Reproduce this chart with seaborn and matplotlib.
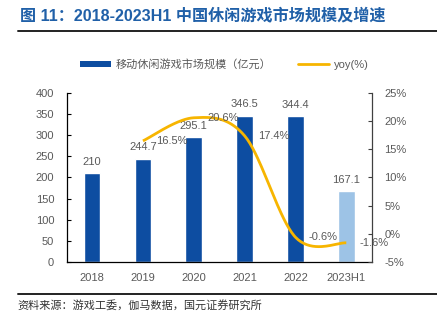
import numpy as np
import pandas as pd
import matplotlib
matplotlib.use("Agg")
import matplotlib.pyplot as plt
import seaborn as sns
from matplotlib.patches import Patch
from matplotlib.lines import Line2D

categories = ["2018", "2019", "2020", "2021", "2022", "2023H1"]
market_size = [210, 244.7, 295.1, 346.5, 344.4, 167.1]
size_labels = ["210", "244.7", "295.1", "346.5", "344.4", "167.1"]
yoy_categories = ["2019", "2020", "2021", "2022", "2023H1"]
yoy_values = [16.5, 20.6, 17.4, -0.6, -1.6]
left_ticks = [0, 50, 100, 150, 200, 250, 300, 350, 400]
right_ticks = [-5, 0, 5, 10, 15, 20, 25]

title = "图 11：2018-2023H1 中国休闲游戏市场规模及增速"
source = "资料来源：游戏工委，伽马数据，国元证券研究所"
bar_legend = "移动休闲游戏市场规模（亿元）"
line_legend = "yoy(%)"

DARK = "#0D4DA1"
LIGHT = "#9DC3E6"
GOLD = "#F7B500"
GREY = "#595959"
TITLE_BLUE = "#2060A8"

sns.set_theme(style="white")
plt.rcParams["font.family"] = ["Liberation Sans", "Noto Sans CJK SC", "DejaVu Sans"]
plt.rcParams["axes.unicode_minus"] = False

fig = plt.figure(figsize=(4.37, 3.21), dpi=100)
ax = fig.add_axes([0.1526, 0.1838, 0.698, 0.5265])

df = pd.DataFrame({"cat": categories, "val": market_size})
palette = {c: (LIGHT if c == "2023H1" else DARK) for c in categories}
sns.barplot(data=df, x="cat", y="val", hue="cat", palette=palette, width=0.33,
            legend=False, ax=ax, saturation=1)

ax.set_ylim(0, 400)
ax.set_xlim(-0.5, len(categories) - 0.5)
ax.set_yticks(left_ticks)
ax.set_xlabel("")
ax.set_ylabel("")
ax.set_xticks(range(len(categories)))
ax.set_xticklabels(categories)
ax.set_xticks(np.arange(-0.5, len(categories), 1.0), minor=True)
ax.tick_params(axis="x", which="major", length=0, pad=8, labelsize=8, labelcolor=GREY)
ax.tick_params(axis="x", which="minor", direction="in", length=3, width=0.8, color="black")
ax.tick_params(axis="y", direction="in", length=3, width=0.8, pad=9, labelsize=8,
               labelcolor=GREY, color="black", left=True)
for s in ["top", "right"]:
    ax.spines[s].set_visible(False)
for s in ["left", "bottom"]:
    ax.spines[s].set_color("black")
    ax.spines[s].set_linewidth(0.9)

for i, (v, lab) in enumerate(zip(market_size, size_labels)):
    ax.annotate(lab, (i, v), xytext=(0, 4.5), textcoords="offset points",
                ha="center", va="bottom", fontsize=8, color=GREY)

ax2 = ax.twinx()
ax2.set_ylim(-5, 25)
ax2.set_yticks(right_ticks)
ax2.set_yticklabels([f"{t}%" for t in right_ticks])
ax2.tick_params(axis="y", direction="in", length=3, width=0.8, pad=9, labelsize=8,
                labelcolor=GREY, color="#404040", right=True)
for s in ["top", "left", "bottom"]:
    ax2.spines[s].set_visible(False)
ax2.spines["right"].set_color("#404040")
ax2.spines["right"].set_linewidth(0.9)

# smooth (Catmull-Rom style) line through yoy points
xs = np.array([categories.index(c) for c in yoy_categories], dtype=float)
ys = np.array(yoy_values, dtype=float)
n = len(xs)
mx = np.zeros(n)
my = np.zeros(n)
for i in range(n):
    a = max(i - 1, 0)
    b = min(i + 1, n - 1)
    mx[i] = (xs[b] - xs[a]) / 2
    my[i] = (ys[b] - ys[a]) / 2
px, py = [], []
for i in range(n - 1):
    t = np.linspace(0, 1, 40)
    h00 = 2 * t**3 - 3 * t**2 + 1
    h10 = t**3 - 2 * t**2 + t
    h01 = -2 * t**3 + 3 * t**2
    h11 = t**3 - t**2
    px.extend(h00 * xs[i] + h10 * mx[i] + h01 * xs[i + 1] + h11 * mx[i + 1])
    py.extend(h00 * ys[i] + h10 * my[i] + h01 * ys[i + 1] + h11 * my[i + 1])
ax2.plot(px, py, color=GOLD, lw=2.0, solid_capstyle="butt")

for x, v in zip(xs, yoy_values):
    ax2.annotate(f"{v}%", (x, v), xytext=(9.5, 0), textcoords="offset points",
                 ha="left", va="center", fontsize=8, color=GREY)

# title and rules
fig.text(0.046, 0.953, title, fontsize=11.6, fontweight="bold", color=TITLE_BLUE,
         ha="left", va="center")
fig.add_artist(Line2D([0.041, 1.0], [0.903, 0.903], color="#222222", lw=1.4,
                      transform=fig.transFigure))
fig.add_artist(Line2D([0.041, 1.0], [0.084, 0.084], color="#222222", lw=1.4,
                      transform=fig.transFigure))
fig.text(0.041, 0.047, source, fontsize=8, color="#333333", ha="left", va="center")

handles = [Patch(facecolor=DARK, edgecolor="none"),
           Line2D([0], [0], color=GOLD, lw=2.0)]
fig.legend(handles, [bar_legend, line_legend], loc="center",
           bbox_to_anchor=(0.513, 0.80), ncol=2, frameon=False, fontsize=8,
           labelcolor=GREY, handlelength=2.8, handleheight=0.5,
           handletextpad=0.4, columnspacing=2.4)

fig.savefig("out.png", dpi=100)
